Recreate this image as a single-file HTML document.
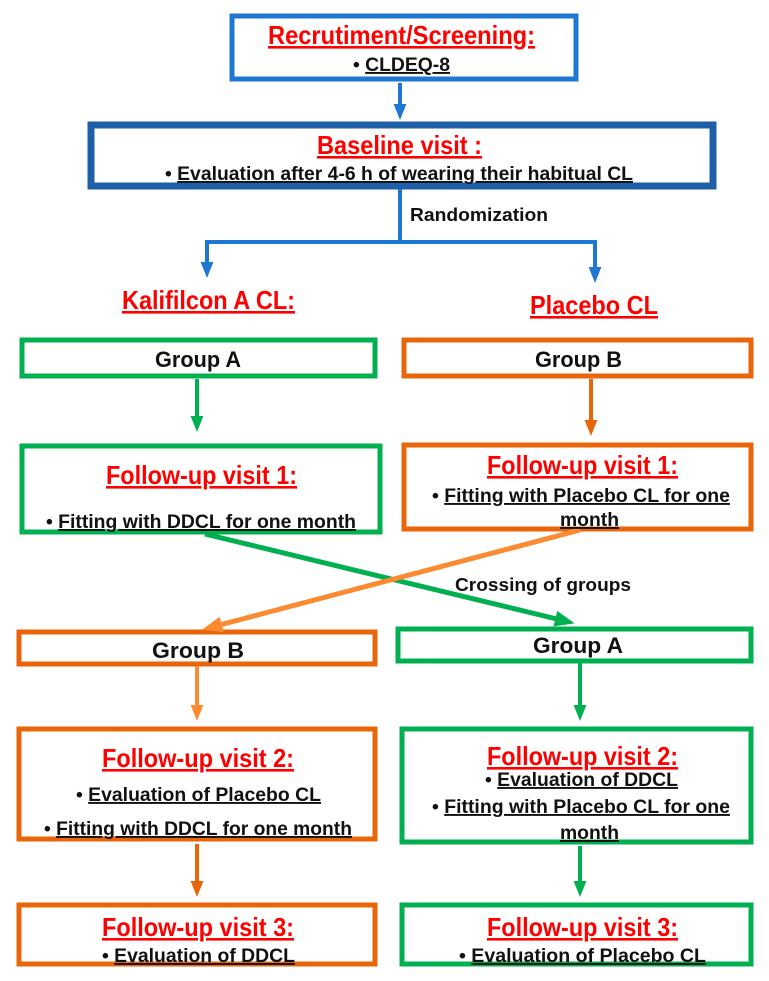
<!DOCTYPE html>
<html><head><style>
html,body{margin:0;padding:0;background:#fff}
svg{display:block}
text{font-family:"Liberation Sans",Arial,sans-serif;font-weight:bold}
.t{fill:#ff0000;font-size:26px;text-decoration:underline}
.b{fill:#111;font-size:19px}
.u{text-decoration:underline}
.g{fill:#111;font-size:22px}
.l{fill:#111;font-size:18px}
</style></head><body>
<svg width="769" height="981" viewBox="0 0 769 981" xmlns="http://www.w3.org/2000/svg">
<defs>
<marker id="ab" markerWidth="4" markerHeight="4" refX="2" refY="2" orient="auto" markerUnits="strokeWidth"><path d="M0,0.4 L4,2 L0,3.6Z" fill="#1f77d4"/></marker>
<marker id="ag" markerWidth="4" markerHeight="4" refX="2" refY="2" orient="auto" markerUnits="strokeWidth"><path d="M0,0.4 L4,2 L0,3.6Z" fill="#00b050"/></marker>
<marker id="ao" markerWidth="4" markerHeight="4" refX="2" refY="2" orient="auto" markerUnits="strokeWidth"><path d="M0,0.4 L4,2 L0,3.6Z" fill="#e8650a"/></marker>
<marker id="ao2" markerWidth="4" markerHeight="4" refX="2" refY="2" orient="auto" markerUnits="strokeWidth"><path d="M0,0.4 L4,2 L0,3.6Z" fill="#fb8a30"/></marker>
</defs>
<g fill="none">
<rect x="232" y="16" width="344" height="63" stroke="#1f77d4" stroke-width="5"/>
<rect x="91" y="125" width="622" height="61" stroke="#1f5fa8" stroke-width="7"/>
<rect x="22" y="340" width="353" height="36" stroke="#00b050" stroke-width="5"/>
<rect x="404" y="340" width="347" height="36" stroke="#e8650a" stroke-width="5"/>
<rect x="22" y="446" width="358" height="86" stroke="#00b050" stroke-width="5"/>
<rect x="404" y="445" width="347" height="84" stroke="#e8650a" stroke-width="5"/>
<rect x="19" y="632" width="356" height="32" stroke="#e8650a" stroke-width="5"/>
<rect x="398" y="629" width="353" height="32" stroke="#00b050" stroke-width="5"/>
<rect x="19" y="729" width="356" height="110" stroke="#e8650a" stroke-width="5"/>
<rect x="402" y="729" width="349" height="113" stroke="#00b050" stroke-width="5"/>
<rect x="19" y="905" width="356" height="59" stroke="#e8650a" stroke-width="5"/>
<rect x="402" y="905" width="349" height="59" stroke="#00b050" stroke-width="5"/>
<line x1="400" y1="83" x2="400" y2="112" stroke="#1f77d4" stroke-width="4" marker-end="url(#ab)"/>
<polyline points="400,189 400,242 207,242 207,270" stroke="#1f77d4" stroke-width="4" marker-end="url(#ab)"/>
<polyline points="400,242 595,242 595,275" stroke="#1f77d4" stroke-width="4" marker-end="url(#ab)"/>
<line x1="197" y1="379" x2="197" y2="424" stroke="#00b050" stroke-width="4" marker-end="url(#ag)"/>
<line x1="591" y1="379" x2="591" y2="428" stroke="#e8650a" stroke-width="4" marker-end="url(#ao)"/>
<line x1="205" y1="534" x2="565" y2="621" stroke="#00b050" stroke-width="5" marker-end="url(#ag)"/>
<line x1="580" y1="530" x2="212" y2="627" stroke="#fb8a30" stroke-width="5" marker-end="url(#ao2)"/>
<line x1="197" y1="666" x2="197" y2="713" stroke="#fb8a30" stroke-width="4" marker-end="url(#ao2)"/>
<line x1="580" y1="663" x2="580" y2="713" stroke="#00b050" stroke-width="4" marker-end="url(#ag)"/>
<line x1="197" y1="844" x2="197" y2="889" stroke="#e8650a" stroke-width="4" marker-end="url(#ao)"/>
<line x1="580" y1="846" x2="580" y2="889" stroke="#00b050" stroke-width="4" marker-end="url(#ag)"/>
</g>
<text class="t" x="268" y="44" textLength="267" lengthAdjust="spacingAndGlyphs">Recrutiment/Screening:</text>
<text class="b" x="353" y="71" textLength="97" lengthAdjust="spacingAndGlyphs">• <tspan class="u">CLDEQ-8</tspan></text>
<text class="t" x="317" y="154" textLength="165" lengthAdjust="spacingAndGlyphs">Baseline visit :</text>
<text class="b" x="165" y="180" textLength="468" lengthAdjust="spacingAndGlyphs">• <tspan class="u">Evaluation after 4-6 h of wearing their habitual CL</tspan></text>
<text class="l" x="410" y="221" textLength="138" lengthAdjust="spacingAndGlyphs">Randomization</text>
<text class="t" x="122" y="309" textLength="173" lengthAdjust="spacingAndGlyphs">Kalifilcon A CL:</text>
<text class="t" x="530" y="314" textLength="128" lengthAdjust="spacingAndGlyphs">Placebo CL</text>
<text class="g" x="155" y="367" textLength="86" lengthAdjust="spacingAndGlyphs">Group A</text>
<text class="g" x="535" y="367" textLength="87" lengthAdjust="spacingAndGlyphs">Group B</text>
<text class="t" x="106" y="484" textLength="191" lengthAdjust="spacingAndGlyphs">Follow-up visit 1:</text>
<text class="b" x="46" y="528" textLength="310" lengthAdjust="spacingAndGlyphs">• <tspan class="u">Fitting with DDCL for one month</tspan></text>
<text class="t" x="487" y="474" textLength="191" lengthAdjust="spacingAndGlyphs">Follow-up visit 1:</text>
<text class="b" x="432" y="502" textLength="298" lengthAdjust="spacingAndGlyphs">• <tspan class="u">Fitting with Placebo CL for one</tspan></text>
<text class="b u" x="560" y="526" textLength="59" lengthAdjust="spacingAndGlyphs">month</text>
<text class="l" x="455" y="591" textLength="176" lengthAdjust="spacingAndGlyphs">Crossing of groups</text>
<text class="g" x="152" y="658" textLength="92" lengthAdjust="spacingAndGlyphs">Group B</text>
<text class="g" x="533" y="653" textLength="90" lengthAdjust="spacingAndGlyphs">Group A</text>
<text class="t" x="102" y="767" textLength="192" lengthAdjust="spacingAndGlyphs">Follow-up visit 2:</text>
<text class="b" x="76" y="801" textLength="245" lengthAdjust="spacingAndGlyphs">• <tspan class="u">Evaluation of Placebo CL</tspan></text>
<text class="b" x="44" y="835" textLength="308" lengthAdjust="spacingAndGlyphs">• <tspan class="u">Fitting with DDCL for one month</tspan></text>
<text class="t" x="487" y="765" textLength="191" lengthAdjust="spacingAndGlyphs">Follow-up visit 2:</text>
<text class="b" x="485" y="786" textLength="193" lengthAdjust="spacingAndGlyphs">• <tspan class="u">Evaluation of DDCL</tspan></text>
<text class="b" x="432" y="813" textLength="298" lengthAdjust="spacingAndGlyphs">• <tspan class="u">Fitting with Placebo CL for one</tspan></text>
<text class="b u" x="560" y="839" textLength="59" lengthAdjust="spacingAndGlyphs">month</text>
<text class="t" x="102" y="936" textLength="192" lengthAdjust="spacingAndGlyphs">Follow-up visit 3:</text>
<text class="b" x="102" y="962" textLength="193" lengthAdjust="spacingAndGlyphs">• <tspan class="u">Evaluation of DDCL</tspan></text>
<text class="t" x="487" y="936" textLength="191" lengthAdjust="spacingAndGlyphs">Follow-up visit 3:</text>
<text class="b" x="459" y="962" textLength="247" lengthAdjust="spacingAndGlyphs">• <tspan class="u">Evaluation of Placebo CL</tspan></text>
</svg>
</body></html>
